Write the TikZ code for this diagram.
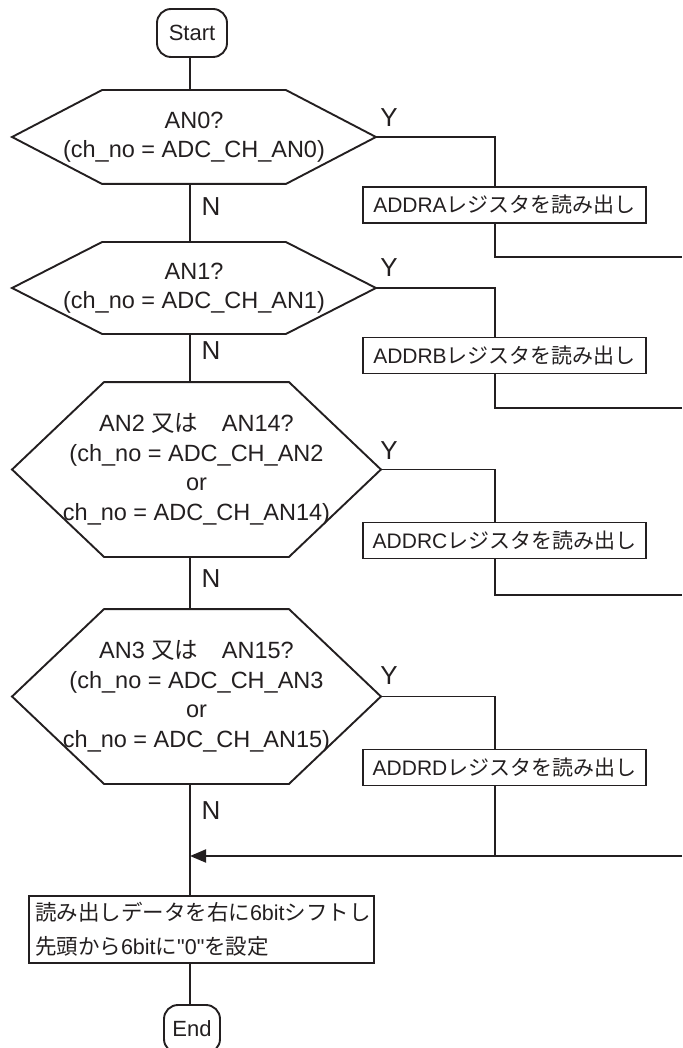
\documentclass[tikz,border=0pt]{standalone}
\usepackage{fontspec}
\setmainfont{Liberation Sans}
\newfontfamily\jpfont{Noto Sans CJK JP}
\newfontfamily\rawsans{Liberation Sans}
\newcommand{\J}[1]{{\jpfont #1}}
\usetikzlibrary{calc,arrows.meta}
\definecolor{ink}{RGB}{35,31,32}
\newcommand{\hexa}[2]{%
  \draw (#1.west) -- ($(#1.north west)+(#2,0)$) -- ($(#1.north east)+(-#2,0)$) --
        (#1.east) -- ($(#1.south east)+(-#2,0)$) -- ($(#1.south west)+(#2,0)$) -- cycle;}
\begin{document}
\begin{tikzpicture}[x=1pt,y=-1pt,line width=1.9pt,draw=ink,text=ink,
  term/.style={draw,rounded corners=14pt,minimum height=48pt,inner sep=0pt,font=\fontsize{22}{26}\selectfont},
  dec/.style={draw=none,inner sep=0pt,align=center,font=\fontsize{23.5}{29.5}\selectfont},
  regbox/.style={draw,minimum width=283pt,minimum height=36pt,inner sep=0pt,font=\fontsize{21}{25}\selectfont},
  procbox/.style={draw,minimum width=345pt,minimum height=63pt,inner sep=6pt,text width=333pt,align=left,font=\fontsize{21.5}{34}\selectfont},
  lbl/.style={inner sep=0pt,font=\fontsize{26}{30}\selectfont},
  arr/.style={-{Triangle[length=16pt,width=13pt]}}]
\useasboundingbox (0,0) rectangle (682,1048);
\coordinate (m) at (190,0);
\coordinate (c) at (495,0);
% terminals
\node[term,minimum width=70pt] (start) at (192,33) {Start};
\node[term,minimum width=56pt] (end) at (192,1029) {End};
% decisions
\node[dec,minimum width=362pt,minimum height=92pt] (d1) at (194,137) {AN0?\\(ch\_no = ADC\_CH\_AN0)};
\hexa{d1}{90}
\node[dec,minimum width=362pt,minimum height=90pt] (d2) at (194,288) {AN1?\\(ch\_no = ADC\_CH\_AN1)};
\hexa{d2}{90}
\node[dec,minimum width=367pt,minimum height=173pt] (d3) at (196.5,469.5) {AN2 \J{又は　}AN14?\\(ch\_no = ADC\_CH\_AN2\\or\\ch\_no = ADC\_CH\_AN14)};
\hexa{d3}{92}
\node[dec,minimum width=367pt,minimum height=173pt] (d4) at (196.5,696.5) {AN3 \J{又は　}AN15?\\(ch\_no = ADC\_CH\_AN3\\or\\ch\_no = ADC\_CH\_AN15)};
\hexa{d4}{92}
% register boxes
\node[regbox] (bA) at (504.5,205) {ADDRA\J{レジスタを読み出し}};
\node[regbox] (bB) at (504.5,355.5) {ADDRB\J{レジスタを読み出し}};
\node[regbox] (bC) at (504.5,540.5) {ADDRC\J{レジスタを読み出し}};
\node[regbox] (bD) at (504.5,767.5) {ADDRD\J{レジスタを読み出し}};
% process box
\node[procbox] (p) at (201.5,929.5) {\J{読み出しデータを右に}6bit\J{シフトし}\\\J{先頭から}6bit\J{に}{\rawsans "0"}\J{を設定}};
% return ends
\coordinate (rA) at (682,257);
\coordinate (rB) at (682,408);
\coordinate (rC) at (682,595);
\coordinate (rD) at (682,856);
% main flow
\draw (m |- start.south) -- (m |- d1.north);
\draw (m |- d1.south) -- (m |- d2.north);
\draw (m |- d2.south) -- (m |- d3.north);
\draw (m |- d3.south) -- (m |- d4.north);
\draw (m |- d4.south) -- (m |- p.north);
\draw (m |- p.south) -- (m |- end.north);
% yes branches
\draw (d1.east) -| (c |- bA.north);
\draw (c |- bA.south) |- (rA);
\draw (d2.east) -| (c |- bB.north);
\draw (c |- bB.south) |- (rB);
\draw (d3.east) -| (c |- bC.north);
\draw (c |- bC.south) |- (rC);
\draw (d4.east) -| (c |- bD.north);
\draw (c |- bD.south) -- (c |- rD);
\draw[arr] (rD) -- (m |- rD);
% labels
\node[lbl] (y1) at (389,118) {Y};
\node[lbl] (y2) at (389,268) {Y};
\node[lbl] (y3) at (389,451) {Y};
\node[lbl] (y4) at (389,676) {Y};
\node[lbl] (n1) at (211,207) {N};
\node[lbl] (n2) at (211,351) {N};
\node[lbl] (n3) at (211,579) {N};
\node[lbl] (n4) at (211,811) {N};
\end{tikzpicture}
\end{document}
